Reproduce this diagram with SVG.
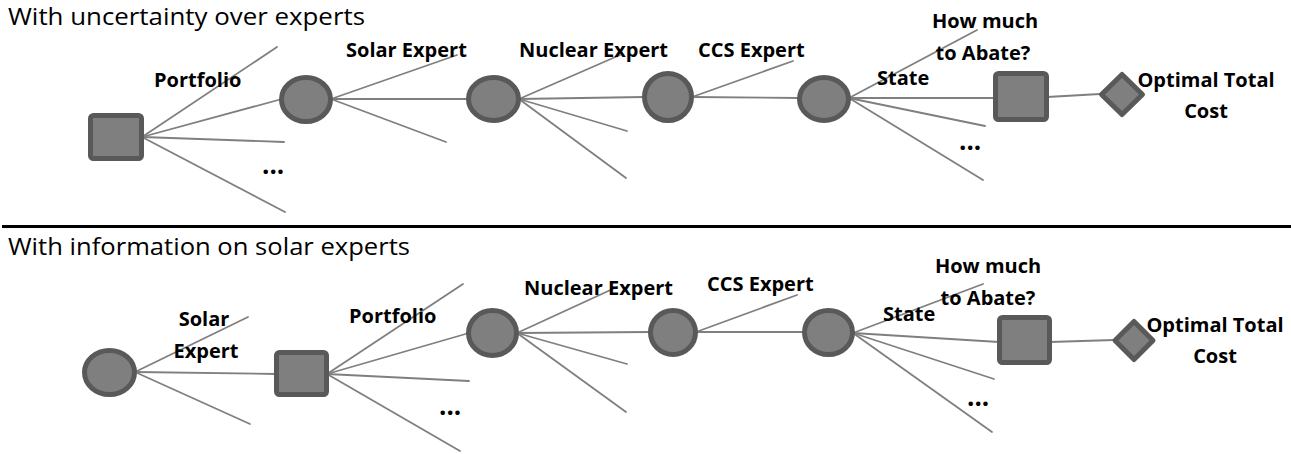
<svg xmlns="http://www.w3.org/2000/svg" width="1291" height="454" viewBox="0 0 1291 454">
<style>
.bg{fill:#ffffff}
.node{fill:#7f7f7f;stroke:#595959;stroke-width:5}
.edge{stroke:#7f7f7f;stroke-width:1.8;fill:none;stroke-linecap:round}
.title{font-family:"Open Sans","Liberation Sans",sans-serif;font-size:23px;fill:#000}
.lbl{font-family:"Open Sans","Liberation Sans",sans-serif;font-size:20px;font-weight:bold;fill:#000}
.dots{font-family:"Open Sans","Liberation Sans",sans-serif;font-size:26px;font-weight:bold;fill:#000}
.c{text-anchor:middle}
.sep{stroke:#000;stroke-width:3}
</style>
<rect class="bg" x="0" y="0" width="1291" height="454"/>
<text class="title" x="8" y="25" textLength="357" lengthAdjust="spacingAndGlyphs">With uncertainty over experts</text>
<line class="sep" x1="2" y1="226.5" x2="1291" y2="226.5"/>
<text class="title" x="8" y="255" textLength="402" lengthAdjust="spacingAndGlyphs">With information on solar experts</text>

<g id="connectors">
  <!-- top row -->
  <line class="edge" x1="142" y1="137" x2="277" y2="47"/>
  <line class="edge" x1="142" y1="137" x2="282" y2="99"/>
  <line class="edge" x1="142" y1="137" x2="284" y2="142"/>
  <line class="edge" x1="142" y1="137" x2="285" y2="212"/>
  <line class="edge" x1="331" y1="99" x2="457" y2="55"/>
  <line class="edge" x1="331" y1="99" x2="468" y2="99"/>
  <line class="edge" x1="331" y1="99" x2="446" y2="142"/>
  <line class="edge" x1="519" y1="99" x2="620" y2="55"/>
  <line class="edge" x1="519" y1="99" x2="644" y2="97"/>
  <line class="edge" x1="519" y1="99" x2="627" y2="131"/>
  <line class="edge" x1="519" y1="99" x2="626" y2="178"/>
  <line class="edge" x1="692" y1="97" x2="793" y2="61"/>
  <line class="edge" x1="692" y1="97" x2="799" y2="98"/>
  <line class="edge" x1="849" y1="98" x2="977" y2="30"/>
  <line class="edge" x1="849" y1="98" x2="995" y2="98"/>
  <line class="edge" x1="849" y1="98" x2="985" y2="126"/>
  <line class="edge" x1="849" y1="98" x2="983" y2="180"/>
  <line class="edge" x1="1047" y1="97" x2="1100" y2="94"/>
  <!-- bottom row -->
  <line class="edge" x1="135" y1="372" x2="248" y2="317"/>
  <line class="edge" x1="135" y1="372" x2="276" y2="374"/>
  <line class="edge" x1="135" y1="372" x2="250" y2="424"/>
  <line class="edge" x1="327" y1="374" x2="463" y2="284"/>
  <line class="edge" x1="327" y1="374" x2="469" y2="333"/>
  <line class="edge" x1="327" y1="374" x2="469" y2="381"/>
  <line class="edge" x1="327" y1="374" x2="460" y2="451"/>
  <line class="edge" x1="517" y1="333" x2="617" y2="287"/>
  <line class="edge" x1="517" y1="333" x2="650" y2="332"/>
  <line class="edge" x1="517" y1="333" x2="627" y2="364"/>
  <line class="edge" x1="517" y1="333" x2="626" y2="412"/>
  <line class="edge" x1="696" y1="332" x2="797" y2="295"/>
  <line class="edge" x1="696" y1="332" x2="804" y2="332"/>
  <line class="edge" x1="853" y1="333" x2="983" y2="284"/>
  <line class="edge" x1="853" y1="333" x2="999" y2="342"/>
  <line class="edge" x1="853" y1="333" x2="994" y2="379"/>
  <line class="edge" x1="853" y1="333" x2="992" y2="432"/>
  <line class="edge" x1="1050" y1="342" x2="1114" y2="340"/>
</g>

<!-- top row nodes -->
<g id="t-portfolio"><rect class="node" x="90.5" y="115.5" width="51" height="43" rx="3"/></g>
<g id="t-solar"><ellipse class="node" cx="306" cy="99.5" rx="24.5" ry="22"/></g>
<g id="t-nuclear"><ellipse class="node" cx="493.5" cy="99" rx="25" ry="21.5"/></g>
<g id="t-ccs"><ellipse class="node" cx="668" cy="97" rx="23.5" ry="23.5"/></g>
<g id="t-state"><ellipse class="node" cx="824" cy="99" rx="24.5" ry="21.5"/></g>
<g id="t-abate"><rect class="node" x="995.5" y="73.5" width="51" height="46" rx="3"/></g>
<g id="t-cost"><path class="node" d="M1122 74.5 L1142.5 94.5 L1122 114.5 L1101.5 94.5 Z" stroke-linejoin="round"/></g>

<!-- bottom row nodes -->
<g id="b-solar"><ellipse class="node" cx="109.5" cy="372.5" rx="25" ry="22"/></g>
<g id="b-portfolio"><rect class="node" x="276.5" y="352.5" width="50" height="42" rx="3"/></g>
<g id="b-nuclear"><ellipse class="node" cx="492.5" cy="333" rx="24" ry="22.5"/></g>
<g id="b-ccs"><ellipse class="node" cx="673" cy="332.5" rx="22.5" ry="22"/></g>
<g id="b-state"><ellipse class="node" cx="828.5" cy="332.5" rx="24" ry="22"/></g>
<g id="b-abate"><rect class="node" x="999.5" y="317.5" width="50" height="45" rx="3"/></g>
<g id="b-cost"><path class="node" d="M1134 321.5 L1153 340.5 L1134 359.5 L1115 340.5 Z" stroke-linejoin="round"/></g>

<g id="labels-top">
  <text class="lbl" x="154" y="87">Portfolio</text>
  <text class="dots" x="262" y="174">...</text>
  <text class="lbl" x="346" y="57">Solar Expert</text>
  <text class="lbl" x="519" y="57">Nuclear Expert</text>
  <text class="lbl" x="698" y="57">CCS Expert</text>
  <text class="lbl" x="877" y="85">State</text>
  <text class="lbl c" x="985" y="28">How much</text>
  <text class="lbl c" x="983" y="60">to Abate?</text>
  <text class="dots" x="959" y="150">...</text>
  <text class="lbl c" x="1206" y="87">Optimal Total</text>
  <text class="lbl c" x="1206" y="118">Cost</text>
</g>
<g id="labels-bottom">
  <text class="lbl c" x="204" y="326">Solar</text>
  <text class="lbl c" x="206" y="358">Expert</text>
  <text class="lbl" x="349" y="323">Portfolio</text>
  <text class="dots" x="439" y="415">...</text>
  <text class="lbl" x="524" y="295">Nuclear Expert</text>
  <text class="lbl" x="707" y="291">CCS Expert</text>
  <text class="lbl" x="883" y="321">State</text>
  <text class="lbl c" x="988" y="273">How much</text>
  <text class="lbl c" x="988" y="305">to Abate?</text>
  <text class="dots" x="967" y="406">...</text>
  <text class="lbl c" x="1215" y="332">Optimal Total</text>
  <text class="lbl c" x="1215" y="363">Cost</text>
</g>
</svg>
